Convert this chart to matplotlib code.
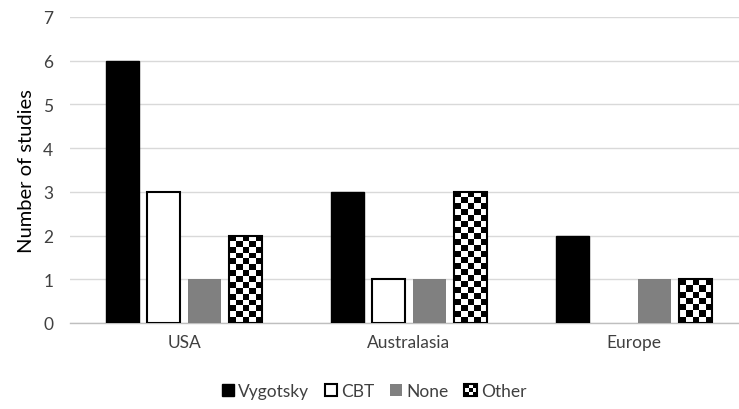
import matplotlib

matplotlib.use("Agg")
import matplotlib.pyplot as plt
import numpy as np
from matplotlib.legend_handler import HandlerBase
from matplotlib.patches import Patch, Rectangle

plt.rcParams["font.family"] = ["Lato", "DejaVu Sans"]

regions = ["USA", "Australasia", "Europe"]
series_names = ["Vygotsky", "CBT", "None", "Other"]
vygotsky = [6, 3, 2]
cbt = [3, 1, 0]
none = [1, 1, 1]
other = [2, 3, 1]
y_ticks = [0, 1, 2, 3, 4, 5, 6, 7]


class CheckerHandler(HandlerBase):
    def create_artists(self, legend, orig_handle, xdescent, ydescent, width, height, fontsize, trans):
        artists = []
        n = 3
        w, h = width / n, height / n
        for i in range(n):
            for j in range(n):
                color = "black" if (i + j) % 2 == 0 else "white"
                artists.append(Rectangle((-xdescent + i * w, -ydescent + j * h), w, h,
                                         facecolor=color, edgecolor="none", transform=trans))
        artists.append(Rectangle((-xdescent, -ydescent), width, height, facecolor="none",
                                 edgecolor="black", linewidth=1.5, transform=trans))
        return artists


fig = plt.figure(figsize=(7.39, 4.10), dpi=100)
ax = fig.add_axes([70 / 739, 1 - 324 / 410, 1 - 70 / 739, (324 - 18) / 410])

x = np.arange(len(regions))
step = 0.183
width = 0.147
ax.bar(x - 1.5 * step, vygotsky, width, color="black", edgecolor="black", zorder=3)
cbt_bars = ax.bar(x - 0.5 * step, cbt, width, color="white", edgecolor="black", linewidth=1.5, zorder=3)
ax.bar(x + 0.5 * step, none, width, color="#808080", edgecolor="none", zorder=3)
other_bars = ax.bar(x + 1.5 * step, other, width, color="none", edgecolor="black", linewidth=1.5, zorder=4)
for rect in list(cbt_bars) + list(other_bars):
    if rect.get_height() <= 0:
        rect.set_visible(False)

# checkerboard fill for "Other"
sq_y = 0.137
for rect in other_bars:
    x0, h = rect.get_x(), rect.get_height()
    if h <= 0:
        continue
    ncols = 5
    nrows = int(round(h / sq_y))
    checker = (np.indices((nrows, ncols)).sum(axis=0) % 2).astype(float)
    ax.imshow(checker, cmap="gray", vmin=0, vmax=1, interpolation="nearest",
              extent=(x0, x0 + rect.get_width(), 0, h), aspect="auto", zorder=3)

ax.set_xlim(-0.507, 2.467)
ax.set_ylim(0, 7)
ax.set_yticks(y_ticks)
ax.set_xticks(x)
ax.set_xticklabels(regions)
ax.yaxis.grid(True, color="#d9d9d9", linewidth=1.0, zorder=0)
ax.set_axisbelow(True)
for side in ["top", "right", "left"]:
    ax.spines[side].set_visible(False)
ax.spines["bottom"].set_color("#bfbfbf")
ax.spines["bottom"].set_linewidth(1.0)
ax.tick_params(axis="both", length=0, labelsize=12.5, colors="#404040")
ax.tick_params(axis="x", pad=8)
ax.tick_params(axis="y", pad=12)
ax.set_ylabel("Number of studies", fontsize=14.5, color="black", labelpad=6)

handles = [
    Patch(facecolor="black", edgecolor="black"),
    Patch(facecolor="white", edgecolor="black", linewidth=1.5),
    Patch(facecolor="#808080", edgecolor="none"),
    Patch(facecolor="white", edgecolor="black"),
]
leg = fig.legend(handles, series_names, loc="center", bbox_to_anchor=(374 / 739, 1 - 392 / 410),
                 ncol=4, frameon=False, fontsize=12.5, handlelength=0.7, handleheight=0.7,
                 handletextpad=0.25, columnspacing=0.9, handler_map={handles[3]: CheckerHandler()})
for t in leg.get_texts():
    t.set_color("#404040")

fig.savefig("out.png", dpi=100)
